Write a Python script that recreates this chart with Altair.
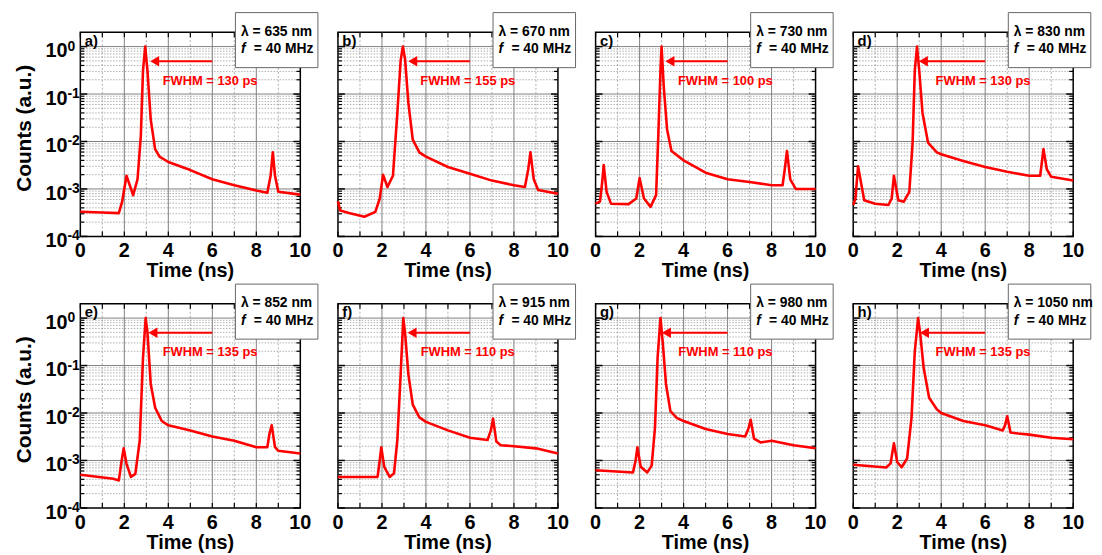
import altair as alt
import pandas as pd

# ---------------- data ----------------
PANEL_LABELS = ["a)", "b)", "c)", "d)", "e)", "f)", "g)", "h)"]
WAVELENGTHS_NM = [635, 670, 730, 830, 852, 915, 980, 1050]
REP_RATE_MHZ = 40
FWHM_PS = [130, 155, 100, 130, 135, 110, 110, 135]
ARROW_TIP_NS = [3.14, 3.16, 3.14, 2.95, 3.06, 3.13, 2.98, 3.0]

time_a = [0, 1.0, 1.75, 1.9, 2.1, 2.4, 2.6, 2.75, 2.85, 2.95, 3.05, 3.2, 3.4, 3.6, 4, 5, 6, 7, 8, 8.5, 8.65, 8.75, 8.85, 9.0, 10]
counts_a = [3.3e-4, 3.2e-4, 3.1e-4, 5.4e-4, 1.9e-3, 7.4e-4, 1.6e-3, 1.3e-2, 0.32, 1.0, 0.32, 2.9e-2, 6.9e-3, 4.8e-3, 3.7e-3, 2.5e-3, 1.6e-3, 1.2e-3, 9.3e-4, 8.3e-4, 1.9e-3, 5.9e-3, 1.9e-3, 8.7e-4, 7.6e-4]

time_b = [0, 0.1, 0.5, 1.2, 1.7, 1.9, 2.05, 2.25, 2.5, 2.7, 2.85, 2.95, 3.05, 3.2, 3.4, 3.7, 4, 5, 6, 7, 8, 8.5, 8.65, 8.75, 8.9, 9.1, 10]
counts_b = [5.5e-4, 3.5e-4, 3.1e-4, 2.6e-4, 3.3e-4, 6.3e-4, 2.0e-3, 1.1e-3, 1.9e-3, 4.0e-2, 0.51, 1.0, 0.55, 6.5e-2, 1.1e-2, 5.9e-3, 4.8e-3, 2.9e-3, 2.1e-3, 1.5e-3, 1.2e-3, 1.1e-3, 2.6e-3, 5.9e-3, 1.6e-3, 9.5e-4, 7.9e-4]

time_c = [0, 0.2, 0.3, 0.37, 0.5, 0.7, 1.5, 1.85, 2.0, 2.2, 2.5, 2.75, 2.85, 2.95, 3.0, 3.1, 3.25, 3.45, 4, 5, 6, 7, 8, 8.5, 8.6, 8.7, 8.85, 9.1, 10]
counts_c = [4.9e-4, 5.4e-4, 1.4e-3, 3.2e-3, 8.7e-4, 4.9e-4, 4.8e-4, 6.3e-4, 1.7e-3, 6.3e-4, 4.2e-4, 7.4e-4, 1.3e-2, 0.32, 1.0, 0.14, 1.8e-2, 6.3e-3, 4.0e-3, 2.2e-3, 1.6e-3, 1.4e-3, 1.2e-3, 1.2e-3, 2.6e-3, 6.3e-3, 1.6e-3, 1.0e-3, 1.0e-3]

time_d = [0, 0.1, 0.22, 0.35, 0.5, 1, 1.6, 1.75, 1.85, 2.05, 2.3, 2.55, 2.7, 2.8, 2.9, 3.0, 3.15, 3.4, 3.8, 4, 5, 6, 7, 8, 8.5, 8.65, 8.8, 9, 10]
counts_d = [4.6e-4, 6.3e-4, 3.0e-3, 1.4e-3, 5.8e-4, 4.9e-4, 4.6e-4, 6.3e-4, 1.9e-3, 5.8e-4, 5.4e-4, 8.7e-4, 9.5e-3, 0.32, 1.0, 0.32, 4.0e-2, 9.5e-3, 5.9e-3, 5.4e-3, 3.9e-3, 2.9e-3, 2.3e-3, 1.9e-3, 1.9e-3, 6.9e-3, 2.6e-3, 1.8e-3, 1.5e-3]

time_e = [0, 1.5, 1.75, 1.88, 1.97, 2.1, 2.3, 2.5, 2.7, 2.85, 2.97, 3.05, 3.2, 3.4, 3.7, 4, 5, 6, 7, 8, 8.5, 8.6, 8.7, 8.85, 9, 10]
counts_e = [5.0e-4, 4.1e-4, 3.8e-4, 1.0e-3, 1.8e-3, 8.5e-4, 4.5e-4, 5.2e-4, 2.6e-3, 0.15, 1.0, 0.52, 4.1e-2, 1.3e-2, 6.8e-3, 5.5e-3, 4.3e-3, 3.2e-3, 2.6e-3, 1.9e-3, 1.9e-3, 3.7e-3, 5.5e-3, 1.9e-3, 1.6e-3, 1.4e-3]

time_f = [0, 1.8, 1.9, 1.97, 2.1, 2.35, 2.55, 2.7, 2.85, 2.97, 3.05, 3.2, 3.4, 3.7, 4, 5, 6, 6.8, 6.95, 7.05, 7.2, 7.4, 8, 9, 10]
counts_f = [4.5e-4, 4.5e-4, 1.0e-3, 1.9e-3, 7.4e-4, 4.5e-4, 5.4e-4, 2.7e-3, 6.6e-2, 1.0, 0.49, 6.6e-2, 1.5e-2, 8.1e-3, 6.5e-3, 4.3e-3, 3.0e-3, 2.7e-3, 4.3e-3, 7.6e-3, 2.5e-3, 2.1e-3, 2.0e-3, 1.8e-3, 1.4e-3]

time_g = [0, 1.7, 1.82, 1.9, 2.05, 2.35, 2.55, 2.7, 2.82, 2.95, 3.05, 3.2, 3.4, 3.7, 4, 5, 6, 6.8, 6.95, 7.05, 7.2, 7.5, 8, 9, 10]
counts_g = [6.2e-4, 5.6e-4, 1.0e-3, 1.9e-3, 7.4e-4, 5.6e-4, 7.8e-4, 4.9e-3, 0.15, 1.0, 0.32, 4.1e-2, 1.1e-2, 7.8e-3, 6.8e-3, 4.6e-3, 3.6e-3, 3.2e-3, 4.7e-3, 7.2e-3, 2.9e-3, 2.4e-3, 2.6e-3, 2.1e-3, 1.8e-3]

time_h = [0, 1.5, 1.7, 1.85, 2.0, 2.2, 2.45, 2.65, 2.8, 2.95, 3.05, 3.2, 3.45, 3.8, 4, 5, 6, 6.8, 6.9, 7.0, 7.15, 7.5, 8, 9, 10]
counts_h = [8.1e-4, 7.1e-4, 8.7e-4, 2.3e-3, 9.3e-4, 7.2e-4, 1.1e-3, 7.9e-3, 0.2, 1.0, 0.45, 9.1e-2, 2.1e-2, 1.2e-2, 1.0e-2, 6.8e-3, 5.5e-3, 4.3e-3, 5.5e-3, 8.5e-3, 3.9e-3, 3.7e-3, 3.5e-3, 3.0e-3, 2.8e-3]

TIMES = [time_a, time_b, time_c, time_d, time_e, time_f, time_g, time_h]
COUNTS = [counts_a, counts_b, counts_c, counts_d, counts_e, counts_f, counts_g, counts_h]

X_LABEL_TICKS = [0, 2, 4, 6, 8, 10]
X_TICK_LABELS = ["0", "2", "4", "6", "8", "10"]
X_ALL_TICKS = [0, 1, 2, 3, 4, 5, 6, 7, 8, 9, 10]
X_MAJOR_GRID = [2, 4, 6, 8]
X_MINOR_GRID = [1, 3, 5, 7, 9]
Y_DECADES = [1, 0.1, 0.01, 0.001, 0.0001]
Y_DECADE_EXPONENTS = ["0", "-1", "-2", "-3", "-4"]
Y_MINOR_MULT = [2, 3, 4, 5, 6, 7, 8, 9]
X_TITLE = "Time (ns)"
Y_TITLE = "Counts (a.u.)"

# ---------------- layout / style ----------------
W, H = 222, 206
X_DOMAIN = [0, 10]
Y_DOMAIN = [1e-4, 2]
FONT = "Liberation Sans"
RED = "#ff0000"
MAJOR_GRID = "#808080"
MINOR_GRID = "#9a9a9a"
TICK_FS = 20
EXP_FS = 14
TITLE_FS = 20

# annotation positions (data units)
BOX_X = (7.05, 10.8)
BOX_Y = (0.36, 5.2)
TEXT_X = 7.3
LINE1_Y = 2.05
LINE2_Y = 0.87
FWHM_X, FWHM_Y = 5.9, 0.19
ARROW_Y, ARROW_TAIL = 0.49, 6.0
HEAD_OFFSET = 0.24
LABEL_X, LABEL_Y = 0.2, 1.33
XTITLE_X = 5.0
YTITLE_Y = 0.019

y_minor = [m * d for d in Y_DECADES for m in Y_MINOR_MULT if m * d < Y_DOMAIN[1]]
y_major_grid = [d for d in Y_DECADES if Y_DOMAIN[0] < d < Y_DOMAIN[1]]

XS = alt.Scale(domain=X_DOMAIN, nice=False, zero=False)
YS = alt.Scale(type="log", domain=Y_DOMAIN, nice=False)

xg_major_df = pd.DataFrame({"t": X_MAJOR_GRID})
xg_minor_df = pd.DataFrame({"t": X_MINOR_GRID})
x_tick_df = pd.DataFrame({"t": X_ALL_TICKS})
x_label_df = pd.DataFrame({"t": X_LABEL_TICKS, "lab": X_TICK_LABELS})
yg_major_df = pd.DataFrame({"v": y_major_grid})
y_major_df = pd.DataFrame({"v": Y_DECADES})
y_minor_df = pd.DataFrame({"v": y_minor})
y_label_df = pd.DataFrame({"v": Y_DECADES, "base": ["10"] * len(Y_DECADES), "exp": Y_DECADE_EXPONENTS})


def txt(**kw):
    base = dict(font=FONT, fontWeight="bold", color="black")
    base.update(kw)
    return base


def X(f):
    return alt.X(f, type="quantitative", scale=XS, axis=None)


def Y(f):
    return alt.Y(f, type="quantitative", scale=YS, axis=None)


def panel(i):
    show_y = i % 4 == 0
    df = pd.DataFrame({"t": TIMES[i], "c": COUNTS[i]})
    ann = pd.DataFrame({
        "label": [PANEL_LABELS[i]],
        "lam": [f"λ = {WAVELENGTHS_NM[i]} nm"],
        "f": ["f"],
        "rate": [f"= {REP_RATE_MHZ} MHz"],
        "fwhm": [f"FWHM = {FWHM_PS[i]} ps"],
        "tip": [ARROW_TIP_NS[i] + HEAD_OFFSET * 0.6],
        "head": [ARROW_TIP_NS[i] + HEAD_OFFSET],
        "tail": [ARROW_TAIL],
        "arrow_y": [ARROW_Y],
        "fx": [FWHM_X], "fy": [FWHM_Y],
        "lx": [LABEL_X], "ly": [LABEL_Y],
        "bx1": [BOX_X[0]], "bx2": [BOX_X[1]], "by1": [BOX_Y[0]], "by2": [BOX_Y[1]],
        "tx": [TEXT_X], "t1y": [LINE1_Y], "t2y": [LINE2_Y],
        "xtx": [XTITLE_X], "yty": [YTITLE_Y],
        "xt": [X_TITLE],
        "yt": [Y_TITLE],
    })

    # grid
    gxM = alt.Chart(xg_major_df).mark_rule(color=MAJOR_GRID, strokeWidth=1).encode(
        x=X("t"), y=alt.value(0), y2=alt.value(H))
    gxm = alt.Chart(xg_minor_df).mark_rule(color=MINOR_GRID, strokeWidth=0.8, strokeDash=[2, 2]).encode(
        x=X("t"), y=alt.value(0), y2=alt.value(H))
    gyM = alt.Chart(yg_major_df).mark_rule(color=MAJOR_GRID, strokeWidth=1).encode(
        y=Y("v"), x=alt.value(0), x2=alt.value(W))
    gym = alt.Chart(y_minor_df).mark_rule(color=MINOR_GRID, strokeWidth=0.8, strokeDash=[1.5, 1.5]).encode(
        y=Y("v"), x=alt.value(0), x2=alt.value(W))

    # inward ticks
    tb = alt.Chart(x_tick_df).mark_rule(color="black", strokeWidth=1.2).encode(
        x=X("t"), y=alt.value(H), y2=alt.value(H - 5))
    tt = alt.Chart(x_tick_df).mark_rule(color="black", strokeWidth=1.2).encode(
        x=X("t"), y=alt.value(0), y2=alt.value(5))
    lmaj = alt.Chart(y_major_df).mark_rule(color="black", strokeWidth=1.5).encode(
        y=Y("v"), x=alt.value(0), x2=alt.value(7))
    lmin = alt.Chart(y_minor_df).mark_rule(color="black", strokeWidth=1.2).encode(
        y=Y("v"), x=alt.value(0), x2=alt.value(4))
    rmaj = alt.Chart(y_major_df).mark_rule(color="black", strokeWidth=1.5).encode(
        y=Y("v"), x=alt.value(W), x2=alt.value(W - 7))
    rmin = alt.Chart(y_minor_df).mark_rule(color="black", strokeWidth=1.2).encode(
        y=Y("v"), x=alt.value(W), x2=alt.value(W - 4))

    line = alt.Chart(df).mark_line(color=RED, strokeWidth=2.6, strokeJoin="round").encode(
        x=X("t"), y=Y("c"))

    base = alt.Chart(ann)
    arrow = base.mark_rule(color=RED, strokeWidth=2).encode(
        x=X("tip"), x2="tail:Q", y=Y("arrow_y"))
    head = base.mark_point(shape="triangle-left", filled=True, color=RED, size=110, opacity=1).encode(
        x=X("head"), y=Y("arrow_y"))
    fwhm = base.mark_text(**txt(color=RED, fontSize=13, align="center", baseline="middle")).encode(
        x=X("fx"), y=Y("fy"), text="fwhm:N")
    plabel = base.mark_text(**txt(fontSize=15, align="left", baseline="middle")).encode(
        x=X("lx"), y=Y("ly"), text="label:N")
    box = base.mark_rect(fill="white", stroke="#666666", strokeWidth=1).encode(
        x=X("bx1"), x2="bx2:Q", y=Y("by2"), y2="by1:Q")
    l1 = base.mark_text(**txt(fontSize=14, align="left", baseline="middle")).encode(
        x=X("tx"), y=Y("t1y"), text="lam:N")
    l2f = base.mark_text(**txt(fontStyle="italic", fontSize=14, align="left", baseline="middle")).encode(
        x=X("tx"), y=Y("t2y"), text="f:N")
    l2 = base.mark_text(**txt(fontSize=14, align="left", baseline="middle", dx=13)).encode(
        x=X("tx"), y=Y("t2y"), text="rate:N")

    # axis labels and titles as text marks placed through the scales
    xlab = alt.Chart(x_label_df).mark_text(**txt(fontSize=TICK_FS, align="center", baseline="alphabetic", dy=21)).encode(
        x=X("t"), y=alt.value(H), text="lab:N")
    xtitle = base.mark_text(**txt(fontSize=TITLE_FS, align="center", baseline="alphabetic", dy=41)).encode(
        x=X("xtx"), y=alt.value(H), text="xt:N")

    layers = [gxM, gxm, gyM, gym, tb, tt, lmaj, lmin, rmaj, rmin, line,
              arrow, head, fwhm, plabel, box, l1, l2f, l2, xlab, xtitle]

    if show_y:
        ylab = alt.Chart(y_label_df).mark_text(**txt(fontSize=TICK_FS, align="right", baseline="alphabetic", dx=-13, dy=11)).encode(
            y=Y("v"), x=alt.value(0), text="base:N")
        yexp = alt.Chart(y_label_df).mark_text(**txt(fontSize=EXP_FS, align="left", baseline="alphabetic", dx=-13, dy=4)).encode(
            y=Y("v"), x=alt.value(0), text="exp:N")
        ytitle = base.mark_text(**txt(fontSize=21, align="center", baseline="middle", angle=270, dx=0, dy=-56)).encode(
            x=alt.value(0), y=Y("yty"), text="yt:N")
        layers += [ylab, yexp, ytitle]

    return alt.layer(*layers).properties(width=W, height=H)


rows = [alt.hconcat(*[panel(r * 4 + c) for c in range(4)], spacing=11) for r in range(2)]
chart = alt.vconcat(*rows, spacing=0).properties(
    padding={"left": 5, "top": 0, "right": 0, "bottom": 0}
).configure_view(stroke="black", strokeWidth=1.5)

chart.save("out.html", embed_options={"renderer": "svg", "actions": False})
